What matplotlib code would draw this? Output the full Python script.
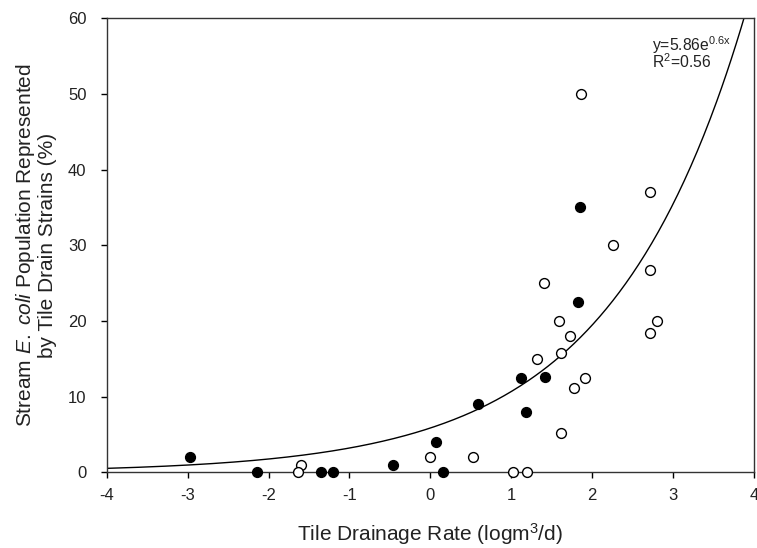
import numpy as np
import matplotlib.pyplot as plt

plt.rcParams['font.family'] = ['Liberation Sans', 'DejaVu Sans']
plt.rcParams['mathtext.fontset'] = 'custom'
plt.rcParams['mathtext.rm'] = 'Liberation Sans'
plt.rcParams['mathtext.it'] = 'Liberation Sans:italic'
plt.rcParams['axes.unicode_minus'] = False

# filled circles
filled_x = [-2.97, -2.14, -1.35, -1.20, -0.46, 0.07, 0.16, 0.59, 1.12, 1.18, 1.42, 1.83, 1.85]
filled_y = [2.0, 0.0, 0.0, 0.0, 1.0, 4.0, 0.0, 9.0, 12.5, 8.0, 12.6, 22.5, 35.0]

# open circles
open_x = [-1.60, -1.63, 0.0, 0.53, 1.02, 1.20, 1.86, 2.72, 2.26, 2.72, 1.41, 1.59, 2.80,
          2.72, 1.72, 1.61, 1.32, 1.91, 1.77, 1.62]
open_y = [1.0, 0.0, 2.0, 2.0, 0.0, 0.0, 50.0, 37.0, 30.0, 26.7, 25.0, 20.0, 20.0,
          18.4, 18.0, 15.8, 15.0, 12.5, 11.1, 5.2]

# fitted curve y = a*exp(b*x)
fit_a = 5.86
fit_b = 0.6

fig = plt.figure(figsize=(7.57, 5.48), dpi=100)
ax = fig.add_axes([0.141, 0.138, 0.855, 0.829])

xs = np.linspace(-4, 4, 400)
ax.plot(xs, fit_a * np.exp(fit_b * xs), color='black', lw=1.0)

ax.scatter(open_x, open_y, s=50, facecolors='white', edgecolors='black',
           linewidths=1.0, clip_on=False, zorder=3)
ax.scatter(filled_x, filled_y, s=50, facecolors='black', edgecolors='black',
           linewidths=1.0, clip_on=False, zorder=3)

ax.set_xlim(-4, 4)
ax.set_ylim(0, 60)
ax.set_xticks(range(-4, 5))
ax.set_yticks(range(0, 61, 10))
ax.tick_params(direction='out', length=4.5, width=1, labelsize=12, colors='black',
               labelcolor='#222222')
ax.tick_params(axis='x', pad=7)
ax.tick_params(axis='y', pad=10)
for sp in ax.spines.values():
    sp.set_linewidth(1.0)
    sp.set_color('#333333')

ax.set_xlabel(r'Tile Drainage Rate (logm$^3$/d)', fontsize=15, color='#222222', labelpad=13)
ax.set_ylabel('Stream $\\mathit{E.\\ coli}$ Population Represented\nby Tile Drain Strains (%)',
              fontsize=15, color='#222222', labelpad=8, linespacing=1.05)

ax.text(2.736, 57.9, 'y=5.86e$^{\\mathrm{0.6x}}$\nR$^2$=0.56', fontsize=11.3, color='#222222',
        va='top', ha='left', linespacing=0.78)

fig.savefig('out.png', dpi=100)
